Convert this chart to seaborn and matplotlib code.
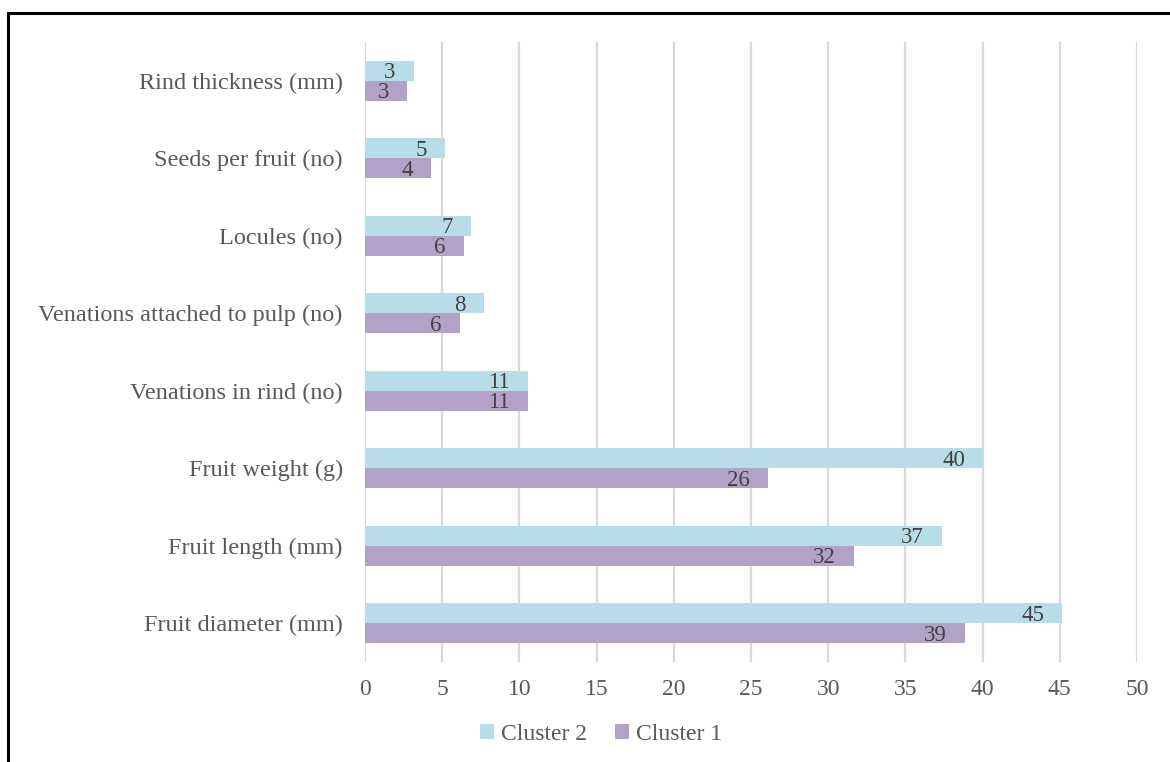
import matplotlib
matplotlib.use("Agg")
import matplotlib.pyplot as plt
from matplotlib.patches import Rectangle, Patch
import seaborn as sns
import pandas as pd

categories = ["Rind thickness (mm)", "Seeds per fruit (no)", "Locules (no)",
              "Venations attached to pulp (no)", "Venations in rind (no)",
              "Fruit weight (g)", "Fruit length (mm)", "Fruit diameter (mm)"]
cluster2 = [3.16, 5.15, 6.89, 7.69, 10.54, 40.04, 37.35, 45.16]
cluster1 = [2.74, 4.28, 6.39, 6.13, 10.54, 26.12, 31.65, 38.83]
series_names = ["Cluster 2", "Cluster 1"]
xticks = [0, 5, 10, 15, 20, 25, 30, 35, 40, 45, 50]

colors = {"Cluster 2": "#B7DEE8", "Cluster 1": "#B3A2C7"}
text_color = "#595959"

sns.set_theme(style="white")
plt.rcParams["font.family"] = ["Liberation Serif", "DejaVu Serif"]

df = pd.DataFrame({
    "category": categories * 2,
    "value": cluster2 + cluster1,
    "series": [series_names[0]] * len(categories) + [series_names[1]] * len(categories),
})

fig = plt.figure(figsize=(11.7, 7.62), dpi=100)
ax = fig.add_axes([365 / 1170, 1 - 662 / 762, (1137 - 365) / 1170, (662 - 42) / 762])

sns.barplot(data=df, y="category", x="value", hue="series", hue_order=series_names,
            order=categories, palette=colors, orient="h", width=0.52, ax=ax,
            legend=False, saturation=1, errorbar=None, linewidth=0)

ax.set_xlim(0, 50)
ax.set_ylim(len(categories) - 0.5, -0.5)
ax.set_xticks(xticks)
ax.set_xticklabels([str(t) for t in xticks])
ax.set_xlabel("")
ax.set_ylabel("")
for s in ax.spines.values():
    s.set_visible(False)
ax.grid(axis="x", color="#D9D9D9", linewidth=1.6)
ax.grid(axis="y", visible=False)
ax.set_axisbelow(True)
ax.tick_params(axis="x", length=0, pad=12, labelsize=17, labelcolor=text_color)
ax.tick_params(axis="y", length=0, pad=16, labelsize=17.5, labelcolor=text_color)

for cont in ax.containers:
    for p in cont:
        w = p.get_width()
        y = p.get_y() + p.get_height() / 2
        ax.annotate(f"{w:.0f}", xy=(w, y), xytext=(-13, -1.5), textcoords="offset points",
                    ha="right", va="center", fontsize=16.5, color="#404040")

handles = [Patch(facecolor=colors[n], edgecolor="none", label=n) for n in series_names]
fig.legend(handles=handles, loc="center", bbox_to_anchor=(601 / 1170, 1 - 734 / 762),
           ncol=2, frameon=False, fontsize=17, labelcolor=text_color,
           handlelength=0.6, handleheight=0.6, handletextpad=0.3, columnspacing=1.2)

fig.patches.append(Rectangle((8 / 1170, -0.1), 1.2, 1 - 13 / 762 + 0.1,
                             transform=fig.transFigure, fill=False,
                             edgecolor="black", linewidth=2.2, zorder=10))

fig.savefig("out.png", dpi=100, facecolor="white")
